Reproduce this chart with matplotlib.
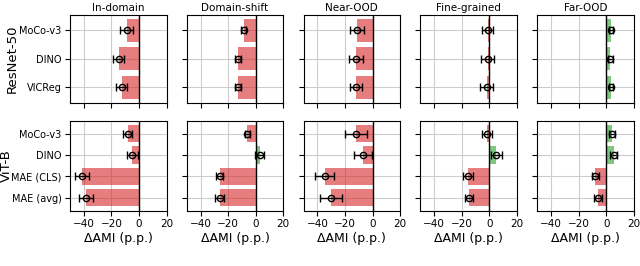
import matplotlib
matplotlib.use("Agg")
import matplotlib.pyplot as plt
import numpy as np

columns = ["In-domain", "Domain-shift", "Near-OOD", "Fine-grained", "Far-OOD"]
rows = ["ResNet-50", "ViT-B"]
resnet_models = ["MoCo-v3", "DINO", "VICReg"]
vit_models = ["MoCo-v3", "DINO", "MAE (CLS)", "MAE (avg)"]

# ResNet-50: mean delta AMI per column (rows = models)
resnet_vals = {
    "In-domain":    [-9.0, -14.5, -12.5],
    "Domain-shift": [-8.7, -12.9, -12.8],
    "Near-OOD":     [-11.0, -12.0, -12.0],
    "Fine-grained": [-1.1, -1.3, -2.0],
    "Far-OOD":      [3.7, 3.1, 3.8],
}
resnet_errs = {
    "In-domain":    [4.4, 4.0, 4.0],
    "Domain-shift": [1.7, 2.0, 2.3],
    "Near-OOD":     [5.0, 5.2, 4.5],
    "Fine-grained": [3.9, 4.8, 4.8],
    "Far-OOD":      [1.5, 1.8, 1.5],
}
vit_vals = {
    "In-domain":    [-8.2, -5.0, -41.3, -38.4],
    "Domain-shift": [-6.0, 2.8, -26.2, -26.2],
    "Near-OOD":     [-12.0, -6.8, -34.6, -30.3],
    "Fine-grained": [-1.8, 5.0, -15.3, -14.5],
    "Far-OOD":      [4.0, 5.5, -7.8, -5.9],
}
vit_errs = {
    "In-domain":    [3.5, 4.0, 5.0, 5.0],
    "Domain-shift": [2.0, 3.0, 2.4, 3.0],
    "Near-OOD":     [8.0, 6.5, 7.0, 7.8],
    "Fine-grained": [3.5, 4.0, 3.5, 3.0],
    "Far-OOD":      [2.2, 2.5, 2.7, 2.7],
}

xticks = [-40, -20, 0, 20]

RED = (0.839, 0.153, 0.157, 0.6)
GREEN = (0.173, 0.627, 0.173, 0.6)

fig = plt.figure(figsize=(6.4, 2.66), dpi=100)
W, H = 640.0, 266.0
lefts = [70, 186.8, 303.6, 420.4, 537.2]
width = 96.5
row_boxes = [(15, 102.5), (121, 210.5)]
row_label_x = [12, 6.5]

row_data = [(resnet_models, resnet_vals, resnet_errs), (vit_models, vit_vals, vit_errs)]

for r, (models, vals, errs) in enumerate(row_data):
    top, bot = row_boxes[r]
    for c, col in enumerate(columns):
        ax = fig.add_axes([lefts[c] / W, 1 - bot / H, width / W, (bot - top) / H])
        v = np.array(vals[col])
        e = np.array(errs[col])
        y = np.arange(len(models))
        colors = [GREEN if x > 0 else RED for x in v]
        ax.barh(y, v, height=0.8, color=colors, zorder=2)
        ax.errorbar(v, y, xerr=e, fmt="o", color="black", mfc="none",
                    ms=4.5, mew=1.0, elinewidth=1.0, capsize=3, capthick=1.0, zorder=4)
        ax.axvline(0, color="black", lw=1.0, zorder=3)
        ax.set_xlim(-50, 20)
        ax.set_xticks(xticks)
        ax.set_yticks(y)
        ax.invert_yaxis()
        ax.grid(True, color="#cccccc", lw=0.8, zorder=0)
        ax.set_axisbelow(True)
        ax.tick_params(labelsize=7.5, length=3.5, pad=2.5)
        if c == 0:
            ax.set_yticklabels(models, fontsize=7)
        else:
            ax.set_yticklabels([])
        if r == 0:
            ax.set_title(col, fontsize=7.5, pad=3)
            ax.set_xticklabels([])
        else:
            ax.set_xlabel("ΔAMI (p.p.)", fontsize=9, labelpad=2)
    fig.text(row_label_x[r] / W, 1 - (top + bot) / 2 / H, rows[r], rotation=90,
             fontsize=9.5, ha="center", va="center")

fig.savefig("out.png", dpi=100)
